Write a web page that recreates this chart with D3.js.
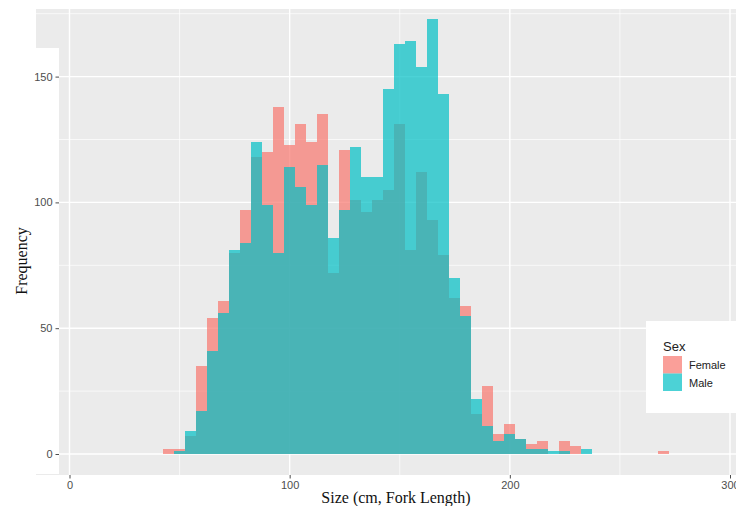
<!DOCTYPE html>
<html>
<head>
<meta charset="utf-8">
<script src="https://cdn.jsdelivr.net/npm/d3@7"></script>
<style>
  html, body { margin: 0; padding: 0; background: #ffffff; }
  svg { display: block; }
</style>
</head>
<body>
<svg id="chart" width="736" height="506"></svg>
<script>
// ---- data (bin centres in cm, binwidth 5) ----
const binCenters = [45,50,55,60,65,70,75,80,85,90,95,100,105,110,115,120,125,130,135,140,
                    145,150,155,160,165,170,175,180,185,190,195,200,205,210,215,220,225,230,235,270];
const femaleCounts = [2,2,7,35,54,61,80,97,118,120,138,123,131,124,135,72,121,101,96,101,
                      105,131,81,112,93,79,62,59,16,27,8,12,6,4,5,0,5,3,0,1];
const maleCounts   = [0,1,9,17,41,56,81,84,124,99,80,114,106,99,115,86,97,122,110,110,
                      145,163,164,154,173,143,70,55,22,11,5,8,6,2,2,1,1,0,2,0];
const xTicks = [0,100,200,300];
const xMinor = [50,150,250];
const yTicks = [0,50,100,150];
const yMinor = [25,75,125,175];
const seriesNames = ["Female","Male"];
const seriesColors = ["#F8766D","#00BFC4"];
const binWidth = 5;

const svg = d3.select("#chart");

// panel geometry
const panel = {x0: 36, x1: 736, y0: 9, y1: 475};
const x = d3.scaleLinear().domain([0,300]).range([69.5,730]);
const y = d3.scaleLinear().domain([0,150]).range([454,76.6]);

// panel background
svg.append("rect").attr("x",panel.x0).attr("y",panel.y0)
  .attr("width",panel.x1-panel.x0).attr("height",panel.y1-panel.y0).attr("fill","#EBEBEB");

// grid
const grid = svg.append("g");
grid.selectAll(".ymin").data(yMinor).join("line")
  .attr("x1",panel.x0).attr("x2",panel.x1).attr("y1",d=>y(d)).attr("y2",d=>y(d))
  .attr("stroke","#fff").attr("stroke-width",0.7);
grid.selectAll(".xmin").data(xMinor).join("line")
  .attr("y1",panel.y0).attr("y2",panel.y1).attr("x1",d=>x(d)).attr("x2",d=>x(d))
  .attr("stroke","#fff").attr("stroke-width",0.7);
grid.selectAll(".ymaj").data(yTicks).join("line")
  .attr("x1",panel.x0).attr("x2",panel.x1).attr("y1",d=>y(d)).attr("y2",d=>y(d))
  .attr("stroke","#fff").attr("stroke-width",1.4);
grid.selectAll(".xmaj").data(xTicks).join("line")
  .attr("y1",panel.y0).attr("y2",panel.y1).attr("x1",d=>x(d)).attr("x2",d=>x(d))
  .attr("stroke","#fff").attr("stroke-width",1.4);

// bars: Female first, Male on top, both semi-transparent
const series = [femaleCounts, maleCounts];
series.forEach((vals, si) => {
  const data = binCenters.map((c,i)=>({c, v: vals[i]})).filter(d=>d.v>0);
  svg.append("g").selectAll("rect").data(data).join("rect")
    .attr("x", d=>x(d.c-binWidth/2))
    .attr("width", d=>x(d.c+binWidth/2)-x(d.c-binWidth/2))
    .attr("y", d=>y(d.v))
    .attr("height", d=>y(0)-y(d.v))
    .attr("fill", seriesColors[si])
    .attr("fill-opacity", 0.7)
    .attr("shape-rendering","crispEdges");
});

// white strip on left (as in reference)
svg.append("rect").attr("x",36).attr("y",48).attr("width",23).attr("height",426).attr("fill","#fff");

// y axis
const yAxis = svg.append("g").attr("transform","translate(59,0)")
  .call(d3.axisLeft(y).tickValues(yTicks).tickSize(3.5).tickPadding(3));
yAxis.select(".domain").remove();
yAxis.selectAll("line").attr("stroke","#4d4d4d");
yAxis.selectAll("text").attr("fill","#4d4d4d").style("font-family","'Liberation Sans', Arial, sans-serif").style("font-size","11px");

// x axis
const xAxis = svg.append("g").attr("transform",`translate(0,${panel.y1})`)
  .call(d3.axisBottom(x).tickValues(xTicks).tickSize(3.5).tickPadding(3));
xAxis.select(".domain").remove();
xAxis.selectAll("line").attr("stroke","#4d4d4d");
xAxis.selectAll("text").attr("fill","#4d4d4d").style("font-family","'Liberation Sans', Arial, sans-serif").style("font-size","11px");

// titles
svg.append("text").attr("x",396).attr("y",503).attr("text-anchor","middle")
  .style("font-family","'Liberation Serif', 'Times New Roman', serif").style("font-size","16px")
  .attr("fill","#111").text("Size (cm, Fork Length)");
svg.append("text").attr("transform","translate(27,261) rotate(-90)").attr("text-anchor","middle")
  .style("font-family","'Liberation Serif', 'Times New Roman', serif").style("font-size","16px")
  .attr("fill","#111").text("Frequency");

// legend
const lg = svg.append("g");
lg.append("rect").attr("x",646).attr("y",321).attr("width",92).attr("height",92).attr("fill","#fff");
lg.append("text").attr("x",663).attr("y",351).text("Sex")
  .style("font-family","'Liberation Sans', Arial, sans-serif").style("font-size","13px").attr("fill","#222");
seriesNames.forEach((n,i)=>{
  lg.append("rect").attr("x",663).attr("y",356+i*17.5).attr("width",19).attr("height",17.5)
    .attr("fill",seriesColors[i]).attr("fill-opacity",0.7);
  lg.append("text").attr("x",689).attr("y",369+i*17.5).text(n)
    .style("font-family","'Liberation Sans', Arial, sans-serif").style("font-size","11px").attr("fill","#222");
});
</script>
</body>
</html>
